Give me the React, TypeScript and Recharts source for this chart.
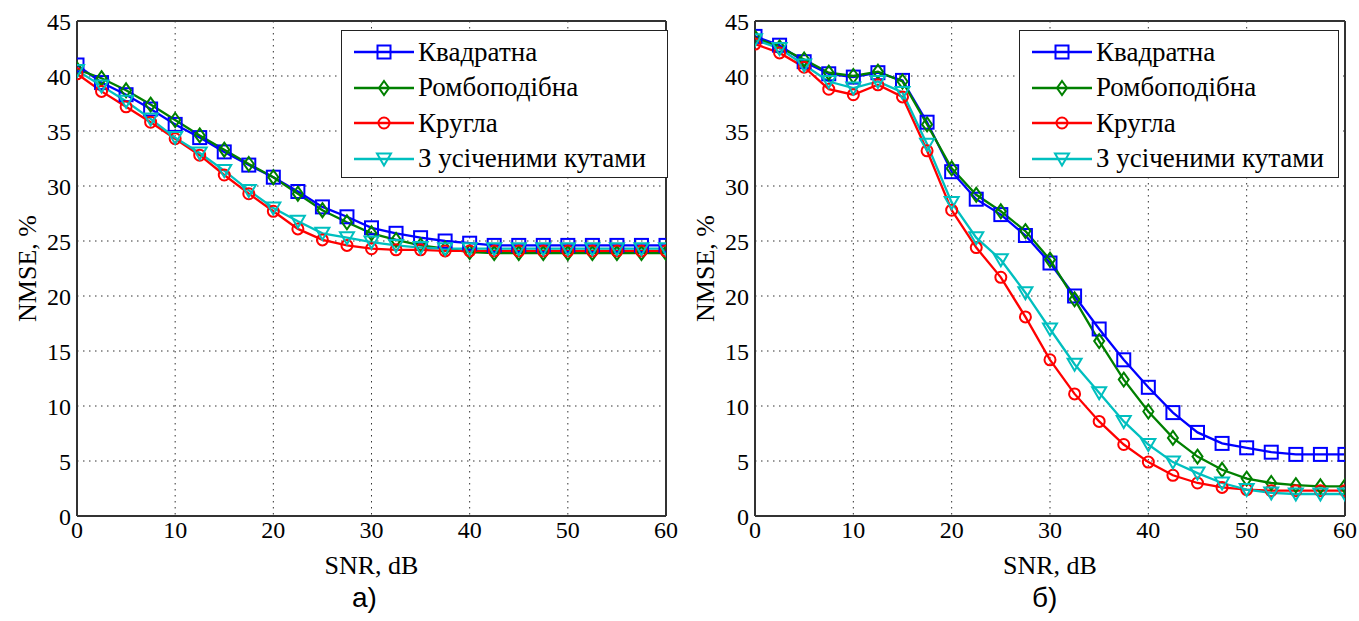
import React from "react";
import { CartesianGrid, Line, LineChart, XAxis, YAxis } from "recharts";

const snr = [0, 2.5, 5, 7.5, 10, 12.5, 15, 17.5, 20, 22.5, 25, 27.5, 30, 32.5, 35, 37.5, 40, 42.5, 45, 47.5, 50, 52.5, 55, 57.5, 60];
const xTicks = [0, 10, 20, 30, 40, 50, 60];
const yTicks = [0, 5, 10, 15, 20, 25, 30, 35, 40, 45];

const seriesNames = ["Квадратна", "Ромбоподібна", "Кругла", "З усіченими кутами"];
const seriesColors = ["#0000ff", "#008000", "#ff0000", "#00bfbf"];
const seriesShapes = ["square", "diamond", "circle", "triangle"];

// panel a)
const squareA = [41.0, 39.4, 38.3, 37.0, 35.6, 34.4, 33.1, 31.9, 30.8, 29.5, 28.1, 27.2, 26.2, 25.7, 25.3, 25.0, 24.8, 24.6, 24.6, 24.6, 24.6, 24.6, 24.6, 24.6, 24.6];
const diamondA = [40.6, 39.8, 38.7, 37.4, 36.0, 34.6, 33.3, 32.0, 30.8, 29.3, 27.8, 26.7, 25.7, 25.1, 24.6, 24.3, 24.0, 23.9, 23.9, 23.9, 23.9, 23.9, 23.9, 23.9, 23.9];
const circleA = [40.2, 38.6, 37.2, 35.8, 34.3, 32.8, 31.0, 29.3, 27.7, 26.1, 25.1, 24.6, 24.3, 24.2, 24.2, 24.1, 24.1, 24.1, 24.1, 24.1, 24.1, 24.1, 24.1, 24.1, 24.1];
const triangleA = [40.5, 39.1, 37.7, 36.1, 34.4, 33.0, 31.4, 29.6, 28.0, 26.8, 25.7, 25.3, 24.9, 24.6, 24.4, 24.3, 24.3, 24.3, 24.3, 24.3, 24.3, 24.3, 24.3, 24.3, 24.3];

// panel б)
const squareB = [43.6, 42.8, 41.3, 40.2, 39.9, 40.3, 39.6, 35.8, 31.3, 28.8, 27.4, 25.5, 23.0, 20.0, 17.0, 14.2, 11.7, 9.4, 7.6, 6.6, 6.2, 5.8, 5.6, 5.6, 5.6];
const diamondB = [43.5, 42.6, 41.5, 40.3, 40.0, 40.4, 39.5, 35.6, 31.6, 29.2, 27.7, 25.9, 23.3, 19.7, 15.9, 12.4, 9.5, 7.1, 5.4, 4.2, 3.4, 3.0, 2.8, 2.7, 2.7];
const circleB = [42.9, 42.1, 40.8, 38.8, 38.3, 39.2, 38.1, 33.2, 27.8, 24.4, 21.7, 18.1, 14.2, 11.1, 8.6, 6.5, 4.9, 3.7, 3.0, 2.6, 2.4, 2.3, 2.3, 2.3, 2.3];
const triangleB = [43.3, 42.5, 41.0, 39.5, 38.9, 39.5, 38.5, 33.8, 28.5, 25.3, 23.3, 20.3, 17.0, 13.8, 11.2, 8.6, 6.5, 4.9, 3.9, 3.0, 2.4, 2.1, 2.0, 2.0, 2.0];

const SERIF = "Liberation Serif, DejaVu Serif, serif";

function Marker({ shape, cx, cy, color }: { shape: string; cx: number; cy: number; color: string }) {
  if (cx == null || cy == null) return null;
  const common = { fill: "none", stroke: color, strokeWidth: 2 };
  if (shape === "square") return <rect x={cx - 6.5} y={cy - 6.5} width={13} height={13} {...common} />;
  if (shape === "diamond")
    return <polygon points={`${cx},${cy - 7} ${cx + 5},${cy} ${cx},${cy + 7} ${cx - 5},${cy}`} {...common} />;
  if (shape === "circle") return <circle cx={cx} cy={cy} r={5.5} {...common} />;
  return <polygon points={`${cx - 7},${cy - 5.5} ${cx + 7},${cy - 5.5} ${cx},${cy + 6.5}`} {...common} />;
}

function Legend({ left, top, width }: { left: number; top: number; width: number }) {
  return (
    <div
      style={{
        position: "absolute",
        left,
        top,
        width,
        height: 148,
        border: "1.5px solid #222",
        background: "#fff",
        boxSizing: "border-box",
      }}
    >
      {seriesNames.map((name, i) => (
        <div key={name} style={{ position: "absolute", left: 11, top: 4 + i * 35.5, height: 34, display: "flex", alignItems: "center" }}>
          <svg width={62} height={20}>
            <line x1={1} y1={10} x2={61} y2={10} stroke={seriesColors[i]} strokeWidth={2.5} />
            <Marker shape={seriesShapes[i]} cx={31} cy={10} color={seriesColors[i]} />
          </svg>
          <span style={{ fontFamily: SERIF, fontSize: 27, color: "#000", marginLeft: 3, whiteSpace: "nowrap" }}>{name}</span>
        </div>
      ))}
    </div>
  );
}

function Panel({
  series,
  width,
  margin,
}: {
  series: number[][];
  width: number;
  margin: { top: number; right: number; bottom: number; left: number };
}) {
  const data = snr.map((x, i) => ({ snr: x, s0: series[0][i], s1: series[1][i], s2: series[2][i], s3: series[3][i] }));
  const tickStyle = { fontFamily: SERIF, fontSize: 24, fill: "#000", style: { fontFamily: SERIF } };
  return (
    <LineChart width={width} height={621} data={data} margin={margin} style={{ fontFamily: SERIF }}>
      <CartesianGrid stroke="#333" strokeDasharray="1.5 4.5" />
      <XAxis
        dataKey="snr"
        type="number"
        domain={[0, 60]}
        ticks={xTicks}
        allowDataOverflow
        height={30}
        tickSize={0}
        tickLine={false}
        tickMargin={5}
        tick={tickStyle}
        axisLine={{ stroke: "#333", strokeWidth: 2 }}
        label={{ value: "SNR, dB", position: "bottom", offset: 10, style: { fontFamily: SERIF, fontSize: 26, fill: "#000" } }}
      />
      <XAxis xAxisId="top" orientation="top" mirror type="number" domain={[0, 60]} ticks={xTicks} allowDataOverflow tick={false} tickSize={6} axisLine={{ stroke: "#333", strokeWidth: 2 }} tickLine={{ stroke: "#333" }} />
      <XAxis xAxisId="bin" orientation="bottom" mirror type="number" domain={[0, 60]} ticks={xTicks} allowDataOverflow tick={false} tickSize={6} axisLine={false} tickLine={{ stroke: "#333" }} />
      <YAxis
        type="number"
        domain={[0, 45]}
        ticks={yTicks}
        allowDataOverflow
        width={40}
        tickSize={0}
        tickLine={false}
        tickMargin={6}
        tick={tickStyle}
        axisLine={{ stroke: "#333", strokeWidth: 2 }}
        label={{ value: "NMSE, %", angle: -90, position: "left", offset: 10, style: { fontFamily: SERIF, fontSize: 26, fill: "#000", textAnchor: "middle" } }}
      />
      <YAxis yAxisId="right" orientation="right" mirror type="number" domain={[0, 45]} ticks={yTicks} allowDataOverflow tick={false} tickSize={6} axisLine={{ stroke: "#333", strokeWidth: 2 }} tickLine={{ stroke: "#333" }} />
      <YAxis yAxisId="lin" orientation="left" mirror type="number" domain={[0, 45]} ticks={yTicks} allowDataOverflow tick={false} tickSize={6} axisLine={false} tickLine={{ stroke: "#333" }} />
      {[0, 1, 2, 3].map((i) => (
        <Line
          key={i}
          dataKey={`s${i}`}
          stroke={seriesColors[i]}
          strokeWidth={2.3}
          isAnimationActive={false}
          dot={(p: any) => <Marker key={`d${i}-${p.index}`} shape={seriesShapes[i]} cx={p.cx} cy={p.cy} color={seriesColors[i]} />}
          activeDot={false}
        />
      ))}
    </LineChart>
  );
}

export default function App() {
  return (
    <div style={{ position: "absolute", left: 0, top: 0, width: 1359, height: 621, background: "#fff", overflow: "hidden", fontFamily: SERIF }}>
      <div style={{ position: "absolute", left: 0, top: 0 }}>
        <Panel series={[squareA, diamondA, circleA, triangleA]} width={700} margin={{ top: 21, right: 34, bottom: 75, left: 37 }} />
      </div>
      <div style={{ position: "absolute", left: 680, top: 0 }}>
        <Panel series={[squareB, diamondB, circleB, triangleB]} width={679} margin={{ top: 21, right: 14, bottom: 75, left: 35 }} />
      </div>
      <Legend left={341} top={30} width={327} />
      <Legend left={1019} top={30} width={320} />
      <div style={{ position: "absolute", left: 352, top: 582, fontFamily: "Liberation Sans, Arial, sans-serif", fontSize: 28 }}>а)</div>
      <div style={{ position: "absolute", left: 1032, top: 582, fontFamily: "Liberation Sans, Arial, sans-serif", fontSize: 28 }}>б)</div>
    </div>
  );
}
